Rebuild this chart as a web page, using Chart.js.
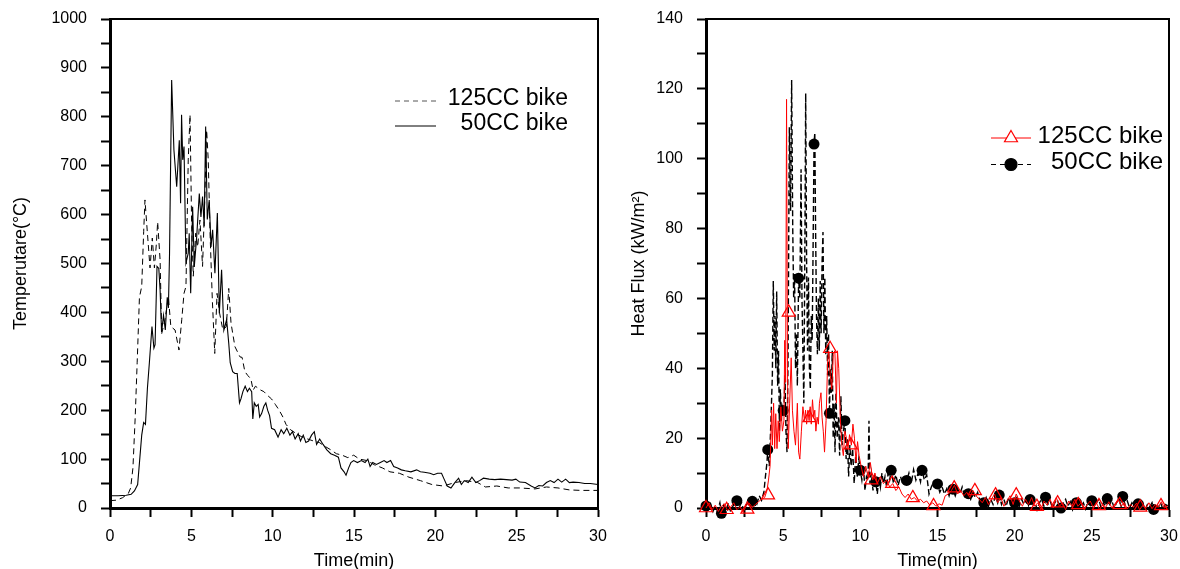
<!DOCTYPE html>
<html>
<head>
<meta charset="utf-8">
<script src="https://cdn.jsdelivr.net/npm/chart.js@4.4.1/dist/chart.umd.min.js"></script>
<style>
  html, body { margin: 0; padding: 0; background: #fff; }
  #wrap { position: relative; width: 1180px; height: 569px; overflow: hidden; }
  canvas { position: absolute; top: 0; }
  #tempChart { left: 0; }
  #fluxChart { left: 600px; }
</style>
</head>
<body>
<div id="wrap">
  <canvas id="tempChart" width="620" height="569"></canvas>
  <canvas id="fluxChart" width="580" height="569"></canvas>
</div>
<script>
// series names
const seriesNames = ['125CC bike', '50CC bike'];

// ---- left panel: temperature (deg C) vs time (min) ----
const time125 = [0, 0.4, 0.77, 1.13, 1.27, 1.41, 1.55, 1.67, 1.81, 1.95,
  2.07, 2.15, 2.3, 2.46, 2.6, 2.73, 2.85, 2.93, 3.08, 3.18,
  3.38, 3.59, 3.74, 4.0, 4.24, 4.41, 4.55, 4.67, 4.81, 4.92,
  5.02, 5.12, 5.27, 5.39, 5.53, 5.69, 5.84, 5.94, 6.04, 6.15,
  6.29, 6.44, 6.58, 6.74, 6.94, 7.15, 7.3, 7.44, 7.68, 7.99,
  8.12, 8.29, 8.47, 8.66, 8.8, 8.94, 9.11, 9.27, 9.46, 9.69,
  9.93, 10.16, 10.4, 10.63, 10.82, 11.1, 11.46, 11.81, 12.16, 12.51,
  12.86, 13.22, 13.57, 13.92, 14.27, 14.62, 14.98, 15.33, 15.8, 16.27,
  16.74, 17.21, 17.79, 18.38, 19.08, 19.79, 20.49, 21.2, 21.9, 22.6,
  23.08, 23.78, 24.48, 25.19, 26.13, 26.83, 27.54, 28.24, 28.94, 30];
const temp125 = [15, 16, 21, 30, 41, 82, 186, 297, 431, 453,
  565, 630, 562, 491, 552, 491, 540, 585, 507, 357,
  385, 432, 371, 364, 323, 385, 439, 453, 712, 804,
  576, 474, 562, 534, 589, 494, 644, 773, 712, 562,
  426, 316, 439, 398, 364, 371, 449, 378, 330, 309,
  308, 279, 271, 264, 241, 249, 245, 241, 238, 230,
  223, 212, 200, 186, 171, 160, 152, 145, 141, 137,
  134, 126, 119, 111, 108, 103, 108, 100, 97, 88,
  82, 74, 71, 63, 56, 48, 45, 52, 56, 52,
  43, 45, 41, 41, 39, 43, 41, 37, 36, 36];

const time50 = [0, 0.5, 1.0, 1.3, 1.5, 1.7, 1.95, 2.07, 2.18, 2.3,
  2.42, 2.58, 2.7, 2.77, 2.89, 3.0, 3.08, 3.17, 3.29, 3.4,
  3.52, 3.59, 3.66, 3.79, 3.93, 4.1, 4.26, 4.34, 4.4, 4.47,
  4.55, 4.67, 4.81, 4.87, 4.96, 5.08, 5.18, 5.33, 5.49, 5.59,
  5.69, 5.79, 5.88, 5.98, 6.1, 6.21, 6.31, 6.45, 6.6, 6.72,
  6.86, 7.0, 7.17, 7.3, 7.39, 7.54, 7.68, 7.82, 7.96, 8.05,
  8.17, 8.31, 8.45, 8.57, 8.71, 8.78, 8.87, 8.99, 9.11, 9.2,
  9.32, 9.46, 9.58, 9.69, 9.81, 9.93, 10.12, 10.33, 10.52, 10.68,
  10.87, 11.06, 11.22, 11.38, 11.57, 11.71, 11.88, 12.04, 12.21, 12.39,
  12.56, 12.7, 12.89, 13.1, 13.33, 13.57, 13.8, 14.04, 14.2, 14.39,
  14.51, 14.67, 14.81, 14.98, 15.21, 15.45, 15.68, 15.85, 15.99, 16.15,
  16.38, 16.62, 16.85, 17.02, 17.25, 17.44, 17.68, 17.91, 18.15, 18.5,
  18.85, 19.08, 19.32, 19.67, 19.9, 20.14, 20.38, 20.54, 20.73, 20.96,
  21.2, 21.43, 21.6, 21.78, 22.02, 22.25, 22.49, 22.72, 22.96, 23.31,
  23.66, 24.01, 24.37, 24.72, 24.95, 25.19, 25.54, 25.89, 26.13, 26.36,
  26.6, 26.83, 27.07, 27.3, 27.54, 27.77, 28.01, 28.24, 28.47, 28.83,
  29.18, 29.53, 30];
const temp50 = [25, 25, 26, 28, 35, 48, 149, 175, 171, 245,
  297, 371, 327, 334, 494, 490, 446, 360, 394, 364,
  431, 409, 520, 875, 732, 657, 752, 623, 804, 712,
  739, 501, 521, 562, 439, 616, 493, 555, 643, 595,
  637, 576, 780, 590, 630, 534, 569, 480, 603, 398,
  487, 364, 385, 337, 297, 279, 275, 275, 215, 223,
  238, 249, 238, 245, 238, 182, 215, 208, 212, 186,
  193, 208, 215, 200, 189, 163, 160, 145, 160, 152,
  163, 149, 156, 141, 152, 137, 149, 134, 137, 149,
  156, 130, 141, 130, 119, 111, 108, 104, 82, 74,
  67, 82, 93, 97, 93, 97, 93, 100, 85, 93,
  89, 93, 97, 93, 97, 85, 82, 78, 76, 74,
  78, 74, 73, 71, 68, 71, 71, 59, 45, 41,
  52, 61, 48, 56, 52, 63, 52, 56, 61, 59,
  58, 59, 58, 57, 59, 53, 52, 45, 41, 46,
  45, 52, 56, 52, 59, 53, 59, 52, 53, 52,
  50, 50, 48];

// ---- right panel: heat flux (kW/m2) vs time (min) ----
const timeFlux125 = [0, 0.2, 0.4, 0.6, 0.8, 1.0, 1.2, 1.4, 1.6, 1.8,
  2.0, 2.2, 2.4, 2.6, 2.8, 3.0, 3.2, 3.4, 3.6, 3.8,
  3.95, 4.05, 4.15, 4.25, 4.3, 4.38, 4.45, 4.52, 4.6, 4.68,
  4.75, 4.85, 4.95, 5.05, 5.1, 5.16, 5.22, 5.28, 5.33, 5.42,
  5.52, 5.6, 5.7, 5.8, 5.92, 6.0, 6.08, 6.18, 6.28, 6.38,
  6.45, 6.52, 6.6, 6.68, 6.75, 6.82, 6.9, 6.98, 7.05, 7.12,
  7.2, 7.28, 7.35, 7.45, 7.52, 7.6, 7.68, 7.78, 7.88, 7.95,
  8.05, 8.15, 8.25, 8.35, 8.45, 8.52, 8.6, 8.7, 8.8, 8.9,
  9.0, 9.1, 9.2, 9.3, 9.42, 9.52, 9.62, 9.72, 9.82, 9.92,
  10.05, 10.2, 10.35, 10.5, 10.65, 10.8, 10.95, 11.1, 11.3, 11.5,
  11.7, 11.9, 12.1, 12.3, 12.5, 12.7, 12.9, 13.1, 13.3, 13.5,
  13.7, 13.9, 14.1, 14.3, 14.5, 14.7, 14.9, 15.1, 15.3, 15.5,
  15.7, 15.9, 16.1, 16.3, 16.5, 16.7, 16.9, 17.1, 17.3, 17.5,
  17.7, 17.9, 18.1, 18.3, 18.5, 18.7, 18.9, 19.1, 19.3, 19.5,
  19.7, 19.9, 20.1, 20.3, 20.5, 20.7, 20.9, 21.1, 21.3, 21.5,
  21.7, 21.9, 22.1, 22.3, 22.5, 22.7, 22.9, 23.1, 23.3, 23.5,
  23.7, 23.9, 24.1, 24.3, 24.5, 24.7, 24.9, 25.1, 25.3, 25.5,
  25.7, 25.9, 26.1, 26.3, 26.5, 26.7, 26.9, 27.1, 27.3, 27.5,
  27.7, 27.9, 28.1, 28.3, 28.5, 28.7, 28.9, 29.1, 29.3, 29.5,
  29.7, 30];
const flux125 = [0, 1.5, -0.5, 0.8, -1, 0.5, 1.2, -0.8, 0.3, 1.5,
  -0.5, 0.4, -1.2, 0.6, 1.4, 0.2, 1.0, 1.8, 2.5, 3,
  5, 8, 12, 28, 18, 30, 17, 27, 17, 25,
  19, 29, 22, 25, 48, 36, 117, 40, 17, 30,
  43, 28, 22, 18, 30, 16, 14, 22, 29, 25,
  28, 24, 28, 25, 29, 24, 31, 26, 28, 22,
  26, 24, 30, 33, 26, 22, 16, 25, 42, 45,
  38, 34, 44, 45, 30, 45, 40, 26, 18, 15,
  22, 20, 17, 21, 18, 24, 20, 13, 19, 15,
  12, 9, 12, 9, 13, 8, 10, 7, 9, 7,
  8, 6, 7, 5, 6, 4, 3, 4, 2.5, 3,
  2, 2.5, 1.5, 2, 0.8, 1.5, 0.5, 1.2, 0.8, 3.5,
  4, 5, 6.5, 4, 5, 3.5, 4.5, 3, 5, 3.5,
  2.5, 1.5, 3, 1, 2.5, 4, 1.5, 3, 0.5, 2,
  3.5, 1, 4, 2, 0.5, 2.5, 1, 3, 0.5, 1.5,
  -0.5, 2, 0.8, 2.5, 0, 3, 0.5, 1.5, -0.5, 2,
  0.5, 2.5, 0.5, 1.5, -0.5, 1, 2, 0, 1.5, -0.5,
  1, 0.2, 1.8, 0, 1.2, 2.5, 0.5, 1.5, -0.3, 1,
  0.2, 1.4, -0.5, 0.8, 0, 1.5, -0.2, 1, 0.2, 1.8,
  0, 0.8];
const timeMark125 = [0, 1.34, 2.68, 4.02, 5.36, 6.7, 8.04, 9.38, 10.72, 12.06,
  13.4, 14.74, 16.08, 17.42, 18.76, 20.1, 21.44, 22.78, 24.12, 25.46,
  26.8, 28.14, 29.48];
const fluxMark125 = [0, -0.5, -0.4, 3.7, 56, 25.8, 45.6, 18, 8, 7,
  2.9, 0.6, 5.7, 4.9, 3.7, 3.7, 0.4, 1.4, 0.9, 0.6,
  0.9, 0.2, 0.6];

const timeFlux50 = [0, 0.15, 0.3, 0.45, 0.6, 0.75, 0.9, 1.0, 1.15, 1.3,
  1.45, 1.6, 1.75, 1.9, 2.0, 2.15, 2.3, 2.45, 2.6, 2.75,
  2.9, 3.0, 3.15, 3.3, 3.45, 3.6, 3.75, 3.85, 3.95, 4.0,
  4.1, 4.2, 4.3, 4.36, 4.42, 4.47, 4.52, 4.58, 4.64, 4.7,
  4.76, 4.82, 4.88, 4.94, 5.0, 5.06, 5.12, 5.18, 5.25, 5.32,
  5.4, 5.48, 5.55, 5.62, 5.68, 5.74, 5.8, 5.86, 5.92, 6.0,
  6.08, 6.16, 6.22, 6.28, 6.34, 6.4, 6.46, 6.52, 6.58, 6.64,
  6.7, 6.76, 6.82, 6.88, 6.94, 7.0, 7.05, 7.1, 7.16, 7.22,
  7.28, 7.34, 7.4, 7.46, 7.52, 7.58, 7.64, 7.7, 7.76, 7.82,
  7.88, 7.94, 8.0, 8.06, 8.12, 8.18, 8.24, 8.3, 8.36, 8.42,
  8.5, 8.58, 8.66, 8.74, 8.82, 8.9, 9.0, 9.08, 9.16, 9.24,
  9.32, 9.4, 9.5, 9.6, 9.7, 9.8, 9.9, 10.0, 10.1, 10.2,
  10.3, 10.4, 10.5, 10.56, 10.62, 10.72, 10.82, 10.92, 11.0, 11.1,
  11.2, 11.3, 11.4, 11.5, 11.6, 11.7, 11.8, 11.9, 12.0, 12.15,
  12.3, 12.45, 12.6, 12.75, 12.9, 13.0, 13.15, 13.3, 13.45, 13.6,
  13.75, 13.9, 14.0, 14.15, 14.3, 14.45, 14.6, 14.75, 14.9, 15.0,
  15.15, 15.3, 15.45, 15.6, 15.75, 15.9, 16.0, 16.15, 16.3, 16.45,
  16.6, 16.75, 16.9, 17.0, 17.15, 17.3, 17.45, 17.6, 17.75, 17.9,
  18.0, 18.15, 18.3, 18.45, 18.6, 18.75, 18.9, 19.0, 19.15, 19.3,
  19.45, 19.6, 19.75, 19.9, 20.0, 20.15, 20.3, 20.45, 20.6, 20.75,
  20.9, 21.0, 21.15, 21.3, 21.45, 21.6, 21.75, 21.9, 22.0, 22.15,
  22.3, 22.45, 22.6, 22.75, 22.9, 23.0, 23.15, 23.3, 23.45, 23.6,
  23.75, 23.9, 24.0, 24.15, 24.3, 24.45, 24.6, 24.75, 24.9, 25.0,
  25.15, 25.3, 25.45, 25.6, 25.75, 25.9, 26.0, 26.15, 26.3, 26.45,
  26.6, 26.75, 26.9, 27.0, 27.15, 27.3, 27.45, 27.6, 27.75, 27.9,
  28.0, 28.15, 28.3, 28.45, 28.6, 28.75, 28.9, 29.0, 29.15, 29.3,
  29.45, 29.6, 29.75, 30];
const flux50 = [0.6, -0.5, 1.2, -1, 0.5, -0.8, 1.5, -1.5, 0.8, -0.5,
  1.4, -1.2, 0.6, 1.5, 2.1, 0.2, 1.6, -0.8, 0.9, 2.2,
  0.5, 1.9, 2.6, 1.2, 3.5, 2.2, 4.5, 9, 13, 16.7,
  12, 24, 38, 65, 45, 55, 40, 62, 35, 45,
  22, 34, 25, 29, 27.9, 30, 38, 22, 16, 45,
  109, 85, 122.5, 80, 60, 67, 40, 50, 35, 65.8,
  60, 97, 60, 45, 30, 70, 118.7, 70, 45, 66,
  40, 34, 55, 48, 75, 104.2, 107.5, 80, 55, 44,
  60, 45, 65, 50, 70, 79, 50, 66, 44, 55,
  38, 50, 27.1, 40, 33, 45, 20, 30, 16, 33,
  20, 26, 15, 32, 18, 22, 25, 14, 20, 9,
  18, 12, 17, 7, 15, 9, 14, 10.8, 8, 12,
  5, 9, 8, 25, 7, 10, 5, 9, 7.5, 4,
  9, 6, 10, 7, 9, 6, 10, 8, 10.8, 7,
  9.5, 6.5, 9, 7, 8.5, 7.9, 10, 7, 11, 8,
  10, 7.5, 10.8, 8, 9.5, 4, 6, 7.5, 5.5, 6.9,
  4.5, 6, 4, 5.5, 3.5, 6, 5.4, 3.5, 5.5, 4,
  6, 3.5, 5, 4.1, 2.5, 4.5, 3, 4.5, 2, 3,
  1.5, 3, 0.5, 2.5, 1, 3.5, 1.5, 3.7, 1, 2.5,
  0.5, 3, 1, 2.5, 1.5, 3, 0.5, 2.5, 1, 3,
  0.8, 2.4, 0.5, 2, -0.5, 1.5, 2.5, 0.5, 3.1, 1,
  2, 0, 1.5, 2.5, 0.5, 0, 1.5, 2.5, 0.5, 1.8,
  -0.5, 1.5, 1.5, 2.8, 0.5, 1.5, -0.3, 2, 0.8, 2.1,
  0.5, 1.5, 2.5, 0, 1.5, 0.5, 2.7, 1, 2, 0,
  1.5, 2.5, 0.5, 3.3, 1, 2, 0, 1.5, 0.5, 2,
  1.2, 0, 1.5, -0.5, 1, 0.3, 1.5, -0.4, 1, 0,
  1.5, -0.3, 1, 0.5];
const timeMark50 = [0, 1, 2, 3, 4, 5, 6, 7, 8, 9,
  10, 11, 12, 13, 14, 15, 16, 17, 18, 19,
  20, 21, 22, 23, 24, 25, 26, 27, 28, 29];
const fluxMark50 = [0.6, -1.5, 2.1, 1.9, 16.7, 27.9, 65.8, 104.2, 27.1, 25,
  10.8, 7.5, 10.8, 7.9, 10.8, 6.9, 5.4, 4.1, 1.5, 3.7,
  1.5, 2.4, 3.1, 0, 1.5, 2.1, 2.7, 3.3, 1.2, -0.4];

const FONT = "'Liberation Sans', Arial, sans-serif";
Chart.defaults.font.family = FONT;
Chart.defaults.color = '#000';

const pts = (xs, ys) => xs.map((x, i) => ({ x: x, y: ys[i] }));

function timeAxis() {
  return {
    type: 'linear', min: 0, max: 30,
    // fixed axis height; label overhang must not shrink the plot box
    afterFit: s => { s.height = 61; s.paddingLeft = 0; s.paddingRight = 0; },
    border: { display: true, color: '#000', width: 3 },
    grid: { drawOnChartArea: false, drawTicks: true, tickLength: 9, tickWidth: 2, tickColor: '#000' },
    ticks: {
      stepSize: 2.5, padding: 10, autoSkip: false, maxRotation: 0, color: '#000',
      font: { size: 16 },
      callback: v => (v % 5 === 0 ? v : '')
    },
    title: { display: true, text: 'Time(min)', color: '#000', font: { size: 18 }, padding: { top: 0, bottom: -3 } }
  };
}

function valueAxis(max, step, labelEvery, text, width, titlePad) {
  return {
    type: 'linear', min: 0, max: max,
    afterFit: s => { s.width = width; s.paddingTop = 0; s.paddingBottom = 0; },
    border: { display: true, color: '#000', width: 3 },
    grid: { drawOnChartArea: false, drawTicks: true, tickLength: 9, tickWidth: 2, tickColor: '#000' },
    ticks: {
      stepSize: step, padding: 14, autoSkip: false, color: '#000',
      font: { size: 16 },
      callback: v => (v % labelEvery === 0 ? v : '')
    },
    title: { display: true, text: text, color: '#000', font: { size: 18 }, padding: { top: titlePad, bottom: 0 } }
  };
}

// top + right frame of the plot box
const framePlugin = {
  id: 'frame',
  afterDatasetsDraw(chart) {
    const a = chart.chartArea, ctx = chart.ctx;
    ctx.save();
    ctx.strokeStyle = '#000';
    ctx.lineWidth = 2;
    ctx.beginPath();
    ctx.moveTo(a.left, a.top);
    ctx.lineTo(a.right, a.top);
    ctx.lineTo(a.right, a.bottom);
    ctx.stroke();
    ctx.restore();
  }
};

// legend drawn inside the plot, line sample on the left, text right aligned
const boxLegend = {
  id: 'boxLegend',
  afterDraw(chart, args, o) {
    const ctx = chart.ctx;
    ctx.save();
    ctx.font = o.fontSize + 'px ' + FONT;
    ctx.textAlign = 'right';
    ctx.textBaseline = 'middle';
    o.items.forEach((it, i) => {
      const y = o.y + i * o.gap;
      ctx.strokeStyle = it.color;
      ctx.lineWidth = it.width;
      ctx.setLineDash(it.dash);
      ctx.beginPath();
      ctx.moveTo(o.x0, y + 2);
      ctx.lineTo(o.x1, y + 2);
      ctx.stroke();
      ctx.setLineDash([]);
      if (it.marker) {
        ctx.fillStyle = it.fill;
        ctx.strokeStyle = it.color;
        ctx.lineWidth = 1.2;
        Chart.helpers.drawPoint(ctx, { pointStyle: it.marker, radius: it.radius, borderWidth: 1.2, rotation: 0 }, (o.x0 + o.x1) / 2, y + 2);
      }
      ctx.fillStyle = '#000';
      ctx.fillText(it.text, o.right, y);
    });
    ctx.restore();
  }
};

new Chart(document.getElementById('tempChart'), {
  type: 'line',
  data: {
    datasets: [
      { label: seriesNames[0], data: pts(time125, temp125), borderColor: '#000', borderWidth: 1, borderDash: [6, 4], pointRadius: 0, tension: 0 },
      { label: seriesNames[1], data: pts(time50, temp50), borderColor: '#000', borderWidth: 1.1, pointRadius: 0, tension: 0 }
    ]
  },
  options: {
    responsive: false, animation: false,
    layout: { padding: { top: 19, right: 22, bottom: 0, left: 0 } },
    scales: {
      x: timeAxis(),
      y: valueAxis(1000, 50, 100, 'Temperutare(°C)', 110, 10)
    },
    plugins: {
      legend: { display: false }, tooltip: { enabled: false },
      boxLegend: {
        fontSize: 23, x0: 395, x1: 436, right: 568, y: 99, gap: 25,
        items: [
          { text: seriesNames[0], color: '#555', width: 1, dash: [5, 4] },
          { text: seriesNames[1], color: '#000', width: 1, dash: [] }
        ]
      }
    }
  },
  plugins: [framePlugin, boxLegend]
});

new Chart(document.getElementById('fluxChart'), {
  type: 'line',
  data: {
    datasets: [
      { label: seriesNames[0], data: pts(timeFlux125, flux125), borderColor: '#ff0000', borderWidth: 1, pointRadius: 0, tension: 0, clip: false },
      { label: seriesNames[0] + ' markers', data: pts(timeMark125, fluxMark125), showLine: false, pointStyle: 'triangle', pointRadius: 7.5, borderWidth: 1.2, pointBorderColor: '#ff0000', pointBackgroundColor: 'rgba(0,0,0,0)', clip: false },
      { label: seriesNames[1] + ' markers', data: pts(timeMark50, fluxMark50), showLine: false, pointStyle: 'circle', pointRadius: 5.5, borderWidth: 0, pointBorderColor: '#000', pointBackgroundColor: '#000', clip: false },
      { label: seriesNames[1], data: pts(timeFlux50, flux50), borderColor: '#000', borderWidth: 1.4, borderDash: [6, 3], pointRadius: 0, tension: 0, clip: false }
    ]
  },
  options: {
    responsive: false, animation: false,
    layout: { padding: { top: 19, right: 11, bottom: 0, left: 0 } },
    scales: {
      x: timeAxis(),
      y: valueAxis(140, 10, 20, 'Heat Flux (kW/m²)', 106, 28)
    },
    plugins: {
      legend: { display: false }, tooltip: { enabled: false },
      boxLegend: {
        fontSize: 24, x0: 391, x1: 431, right: 563, y: 136, gap: 26.5,
        items: [
          { text: seriesNames[0], color: '#ff0000', width: 1, dash: [], marker: 'triangle', radius: 7.5, fill: '#fff' },
          { text: seriesNames[1], color: '#000', width: 1, dash: [5, 4], marker: 'circle', radius: 6, fill: '#000' }
        ]
      }
    }
  },
  plugins: [framePlugin, boxLegend]
});
</script>
</body>
</html>
